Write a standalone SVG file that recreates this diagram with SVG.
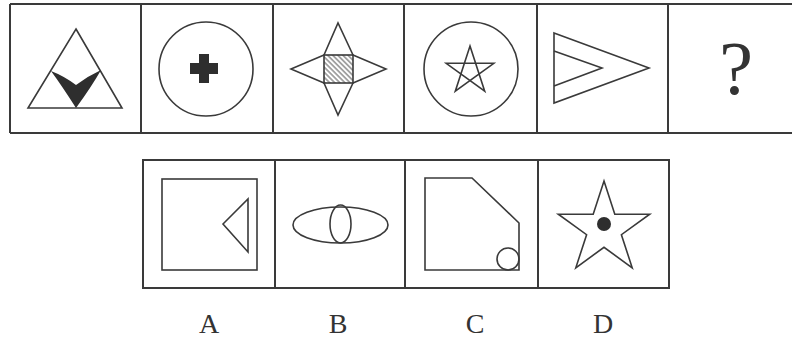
<svg xmlns="http://www.w3.org/2000/svg" width="792" height="342" viewBox="0 0 792 342">
  <defs>
    <pattern id="hatch" patternUnits="userSpaceOnUse" width="3.6" height="3.6" patternTransform="rotate(45)">
      <line x1="0" y1="1.8" x2="3.6" y2="1.8" stroke="#555" stroke-width="1"/>
    </pattern>
  </defs>
  <style>
    .frame { fill: none; stroke: #3a3a3a; stroke-width: 2; }
    .ln { fill: none; stroke: #3a3a3a; stroke-width: 1.6; stroke-linejoin: miter; }
    .hatched { fill: url(#hatch); stroke: #3a3a3a; stroke-width: 1.6; }
    .blk { fill: #2e2e2e; stroke: none; }
    .lbl { font-family: "Liberation Serif", "Times New Roman", serif; font-size: 28px; fill: #333; text-anchor: middle; }
    .q { font-family: "Liberation Serif", "Times New Roman", serif; font-size: 76px; fill: #333; text-anchor: middle; }
  </style>
  <rect width="792" height="342" fill="#ffffff"/>

  <!-- top row frame -->
  <g id="top-frame">
    <path class="frame" d="M10 4 H792 M10 133 H792 M10 4 V133 M141 4 V133 M273 4 V133 M404 4 V133 M537 4 V133 M668 4 V133"/>
  </g>

  <g id="q1">
    <polygon class="ln" points="76,29 122,108 28,108"/>
    <path class="blk" d="M51 71 Q64 76 76 85 Q88 76 101 70 Q92 86 76 108 Q62 86 51 71 Z"/>
  </g>

  <g id="q2">
    <circle class="ln" cx="206" cy="69" r="47"/>
    <path class="blk" d="M199 54 H209 V63 H218 V74 H209 V83 H199 V74 H190 V63 H199 Z"/>
  </g>

  <g id="q3">
    <rect class="hatched" x="324" y="55" width="29" height="28"/>
    <path class="ln" d="M324 55 L338 23 L353 55 M353 55 L386 69 L353 83 M353 83 L338 115 L324 83 M324 83 L291 69 L324 55"/>
  </g>

  <g id="q4">
    <circle class="ln" cx="471" cy="69" r="47"/>
    <polygon class="ln" points="470,46 484.7,91.2 446.2,63.3 493.8,63.3 455.3,91.2"/>
  </g>

  <g id="q5">
    <polygon class="ln" points="554,33 649,68 554,103"/>
    <polyline class="ln" points="554,51 602,68 554,86"/>
  </g>

  <g id="q6">
    <text class="q" x="736" y="94">?</text>
  </g>

  <!-- bottom row frame -->
  <g id="bottom-frame">
    <path class="frame" d="M143 160 H669 V288 H143 Z M275 160 V288 M405 160 V288 M538 160 V288"/>
  </g>

  <g id="optA">
    <rect class="ln" x="162" y="179" width="95" height="91"/>
    <polygon class="ln" points="223,224 248,199 248,252"/>
    <text class="lbl" x="209" y="333">A</text>
  </g>

  <g id="optB">
    <ellipse class="ln" cx="340.5" cy="225" rx="47.5" ry="18"/>
    <ellipse class="ln" cx="340.5" cy="224" rx="10.5" ry="19"/>
    <text class="lbl" x="338" y="333">B</text>
  </g>

  <g id="optC">
    <polygon class="ln" points="425,178 472,178 519,223 519,270 425,270"/>
    <circle class="ln" cx="508" cy="259" r="11"/>
    <text class="lbl" x="475" y="333">C</text>
  </g>

  <g id="optD">
    <polygon class="ln" points="604,181 614.8,214.2 649.7,214.2 621.4,234.7 632.2,267.8 604,247.3 575.8,267.8 586.6,234.7 558.3,214.2 593.2,214.2"/>
    <circle class="blk" cx="604" cy="224" r="7"/>
    <text class="lbl" x="603" y="333">D</text>
  </g>

  <g id="connectors"></g>
</svg>
